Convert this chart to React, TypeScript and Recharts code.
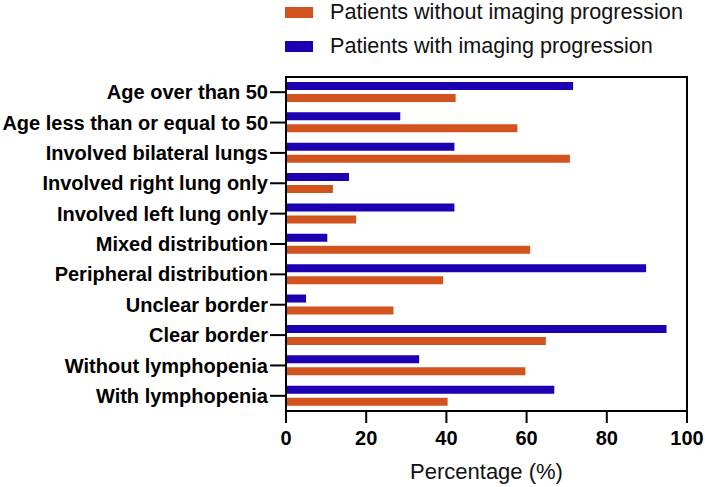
import { BarChart, Bar, XAxis, YAxis, ReferenceArea } from 'recharts';

const categories = [
  'Age over than 50',
  'Age less than or equal to 50',
  'Involved bilateral lungs',
  'Involved right lung only',
  'Involved left lung only',
  'Mixed distribution',
  'Peripheral distribution',
  'Unclear border',
  'Clear border',
  'Without lymphopenia',
  'With lymphopenia',
];
const withProgression = [71.6, 28.5, 42, 15.7, 42, 10.3, 89.8, 5, 94.9, 33.2, 66.9];
const withoutProgression = [42.3, 57.7, 70.8, 11.7, 17.5, 60.9, 39.2, 26.8, 64.8, 59.7, 40.3];
const xTicks = [0, 20, 40, 60, 80, 100];

const BLUE = '#1c00b2';
const ORANGE = '#d3531f';
const FONT = '"Liberation Sans", Arial, Helvetica, sans-serif';

const data = categories.map((name, i) => ({
  name,
  withP: withProgression[i],
  withoutP: withoutProgression[i],
}));

function LegendRow({ color, label, top }: { color: string; label: string; top: number }) {
  return (
    <div style={{ position: 'absolute', left: 285, top, display: 'flex', alignItems: 'center', fontFamily: FONT, fontSize: 21.6, color: '#111', whiteSpace: 'nowrap' }}>
      <span style={{ display: 'inline-block', width: 28, height: 11, background: color, marginRight: 17 }} />
      <span>{label}</span>
    </div>
  );
}

export default function App() {
  return (
    <div style={{ position: 'absolute', left: 0, top: 0, width: 705, height: 487, background: '#fff' }}>
      <LegendRow color={ORANGE} label="Patients without imaging progression" top={-1} />
      <LegendRow color={BLUE} label="Patients with imaging progression" top={33} />
      <BarChart
        width={705}
        height={487}
        data={data}
        layout="vertical"
        margin={{ top: 77, right: 18, left: 0, bottom: 0 }}
        barSize={8}
        barGap={4}
      >
        <XAxis
          type="number"
          domain={[0, 100]}
          ticks={xTicks}
          height={76}
          tick={{ fill: '#000', fontSize: 20, fontWeight: 'bold', fontFamily: FONT }}
          axisLine={{ stroke: '#000', strokeWidth: 2 }}
          tickLine={{ stroke: '#000', strokeWidth: 2 }}
          tickSize={12}
          tickMargin={8}
          label={{ value: 'Percentage (%)', position: 'insideBottom', offset: 8, fill: '#111', fontSize: 22, fontFamily: FONT }}
        />
        <YAxis
          type="category"
          dataKey="name"
          width={286}
          interval={0}
          tick={{ fill: '#000', fontSize: 20, fontWeight: 'bold', fontFamily: FONT }}
          axisLine={{ stroke: '#000', strokeWidth: 2 }}
          tickLine={{ stroke: '#000', strokeWidth: 2 }}
          tickSize={16}
          tickMargin={2}
        />
        <ReferenceArea x1={0} x2={100} fill="none" stroke="#000" strokeWidth={2} />
        <Bar dataKey="withP" fill={BLUE} isAnimationActive={false} />
        <Bar dataKey="withoutP" fill={ORANGE} isAnimationActive={false} />
      </BarChart>
    </div>
  );
}
